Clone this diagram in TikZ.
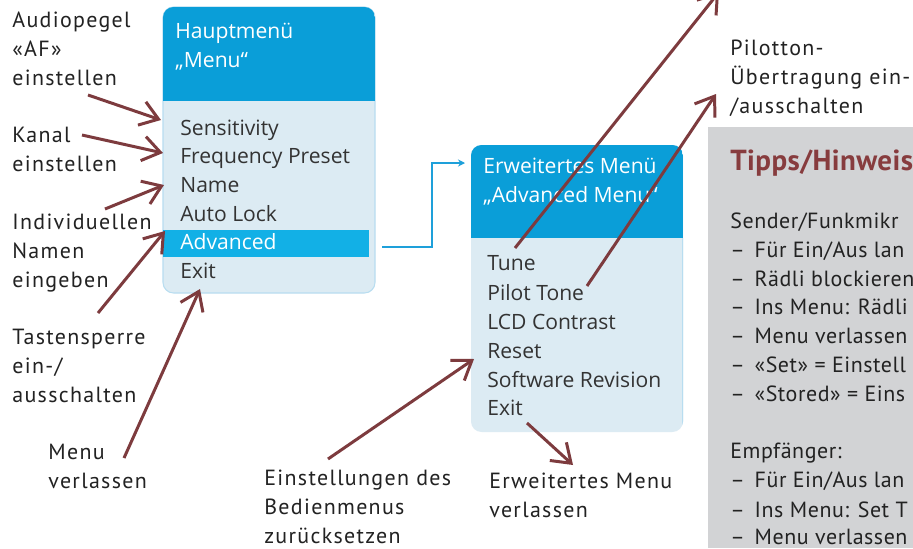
\documentclass[tikz,border=0pt]{standalone}
\usepackage{fontspec}
\setmainfont{PT Sans}[LetterSpace=6]
\newfontfamily\titlefont{PT Sans}[LetterSpace=1.5]
\newfontfamily\tipfont{PT Sans}[LetterSpace=2.5]
\newfontfamily\menufont{Open Sans}
\usetikzlibrary{arrows.meta}
\definecolor{arrowred}{HTML}{7D3B3E}
\definecolor{titlered}{HTML}{873C3E}
\definecolor{headblue}{HTML}{0A9ED8}
\definecolor{hiblue}{HTML}{12B0E6}
\definecolor{bodyblue}{HTML}{DCEBF3}
\definecolor{edgeblue}{HTML}{B8DDF0}
\definecolor{linkblue}{HTML}{1EA0DA}
\definecolor{tipgrey}{HTML}{D2D3D5}
\definecolor{labeltext}{HTML}{222222}
\definecolor{menutext}{HTML}{333333}
\begin{document}
\begin{tikzpicture}[x=0.02cm,y=-0.02cm,
  lbl/.style={anchor=base west, inner sep=0pt, align=left, text=labeltext,
    font=\fontsize{12.5}{16.4}\selectfont},
  item/.style={anchor=base west, inner sep=0pt, text=menutext,
    font=\menufont\fontsize{12}{14}\selectfont},
  headtxt/.style={anchor=base west, inner sep=0pt, text=white, align=left,
    font=\menufont\fontsize{12}{16.4}\selectfont},
  tiptxt/.style={anchor=base west, inner sep=0pt, text=labeltext,
    font=\tipfont\fontsize{12.5}{16.4}\selectfont},
  arr/.style={draw=arrowred, line width=1.7pt,
    -{Straight Barb[length=10pt,width=14pt,line width=1.7pt]}},
  link/.style={draw=linkblue, line width=0.9pt,
    -{Stealth[length=4pt,width=4pt]}}]
\useasboundingbox (0,0) rectangle (913,548);
\clip (0,0) rectangle (913,548);
\fill[white] (0,0) rectangle (913,548);

% ---------- main menu box ----------
\fill[bodyblue, draw=edgeblue, line width=0.6pt, rounded corners=6pt] (163,7) rectangle (375,293);
\begin{scope}
  \clip[rounded corners=6pt] (163,7) rectangle (375,293);
  \fill[headblue] (163,7) rectangle (375,101);
\end{scope}
\node[headtxt] (h1) at (175,67) {Hauptmenü\\„Menu“};
\fill[hiblue] (163,230) rectangle (369,257);
\node[item] (sens) at (180,135) {Sensitivity};
\node[item] (freq) at (180,163) {Frequency Preset};
\node[item] (name) at (180,192) {Name};
\node[item] (alock) at (180,221) {Auto Lock};
\node[item, text=white] (adv) at (180,249) {Advanced};
\node[item] (exit1) at (180,278) {Exit};

% ---------- advanced menu box ----------
\fill[bodyblue, rounded corners=6pt] (471,145) rectangle (683,432);
\begin{scope}
  \clip[rounded corners=6pt] (471,145) rectangle (683,432);
  \fill[headblue] (471,145) rectangle (683,238);
  \draw[edgeblue, line width=1.2pt] (683,238) -- (683,425);
\end{scope}
\node[headtxt] (h2) at (483,202) {Erweitertes Menü\\„Advanced Menu“};
\node[item] (tune) at (487,270) {Tune};
\node[item] (pilot) at (487,300) {Pilot Tone};
\node[item] (lcd) at (487,329) {LCD Contrast};
\node[item] (reset) at (487,358) {Reset};
\node[item] (soft) at (487,387) {Software Revision};
\node[item] (exit2) at (487,415) {Exit};

% ---------- link ----------
\coordinate (ls) at (382,247);
\coordinate (lm) at (432,163);
\coordinate (le) at (465,163);
\draw[link] (ls) -| (lm) -- (le);

% ---------- tips box ----------
\fill[tipgrey] (708,127) rectangle (913,548);
\node[anchor=base west, inner sep=0pt, text=titlered,
  font=\titlefont\bfseries\fontsize{16.5}{20}\selectfont] (tt) at (730,170) {Tipps/Hinweis};
\node[tiptxt] (t1) at (730,228) {Sender/Funkmikr};
\node[tiptxt] (t2) at (730,257) {–\hspace{0.45em}Für Ein/Aus lan};
\node[tiptxt] (t3) at (730,286) {–\hspace{0.45em}Rädli blockieren};
\node[tiptxt] (t4) at (730,314) {–\hspace{0.45em}Ins Menu: Rädli};
\node[tiptxt] (t5) at (730,343) {–\hspace{0.45em}Menu verlassen};
\node[tiptxt] (t6) at (730,372) {–\hspace{0.45em}«Set» = Einstell};
\node[tiptxt] (t7) at (730,401) {–\hspace{0.45em}«Stored» = Eins};
\node[tiptxt] (t8) at (730,458) {Empfänger:};
\node[tiptxt] (t9) at (730,487) {–\hspace{0.45em}Für Ein/Aus lan};
\node[tiptxt] (t10) at (730,517) {–\hspace{0.45em}Ins Menu: Set T};
\node[tiptxt] (t11) at (730,544) {–\hspace{0.45em}Menu verlassen};

% ---------- labels (anchor = baseline of last line) ----------
\node[lbl] (L1) at (12,85) {Audiopegel\\«AF»\\einstellen};
\node[lbl] (L2) at (12,171) {Kanal\\einstellen};
\node[lbl] (L3) at (12,287) {Individuellen\\Namen\\eingeben};
\node[lbl] (L4) at (12,402) {Tastensperre\\ein-/\\ausschalten};
\node[lbl] (L5) at (48,488) {Menu\\verlassen};
\node[lbl] (L6) at (264,543) {Einstellungen des\\Bedienmenus\\zurücksetzen};
\node[lbl] (L7) at (489,517) {Erweitertes Menu\\verlassen};
\node[lbl] (L8) at (730,113) {Pilotton-\\Übertragung ein-\\/ausschalten};

% ---------- arrows ----------
\coordinate (a1s) at (88,95);   \coordinate (a1e) at (161,120);
\coordinate (a2s) at (82,135);  \coordinate (a2e) at (163,153);
\coordinate (a3s) at (105,209); \coordinate (a3e) at (164,185);
\coordinate (a4s) at (98,313);  \coordinate (a4e) at (165,231);
\coordinate (a5s) at (124,458); \coordinate (a5e) at (200,289);
\coordinate (a6s) at (328,459); \coordinate (a6e) at (474,359);
\coordinate (a7s) at (527,423); \coordinate (a7e) at (573,465);
\coordinate (a8s) at (515,248); \coordinate (a8e) at (719,-8);
\coordinate (a9s) at (587,286); \coordinate (a9e) at (716,94);
\draw[arr] (a1s) -- (a1e);
\draw[arr] (a2s) -- (a2e);
\draw[arr] (a3s) -- (a3e);
\draw[arr] (a4s) -- (a4e);
\draw[arr] (a5s) -- (a5e);
\draw[arr] (a6s) -- (a6e);
\draw[arr] (a7s) -- (a7e);
\draw[arr] (a8s) -- (a8e);
\draw[arr] (a9s) -- (a9e);
\end{tikzpicture}
\end{document}
